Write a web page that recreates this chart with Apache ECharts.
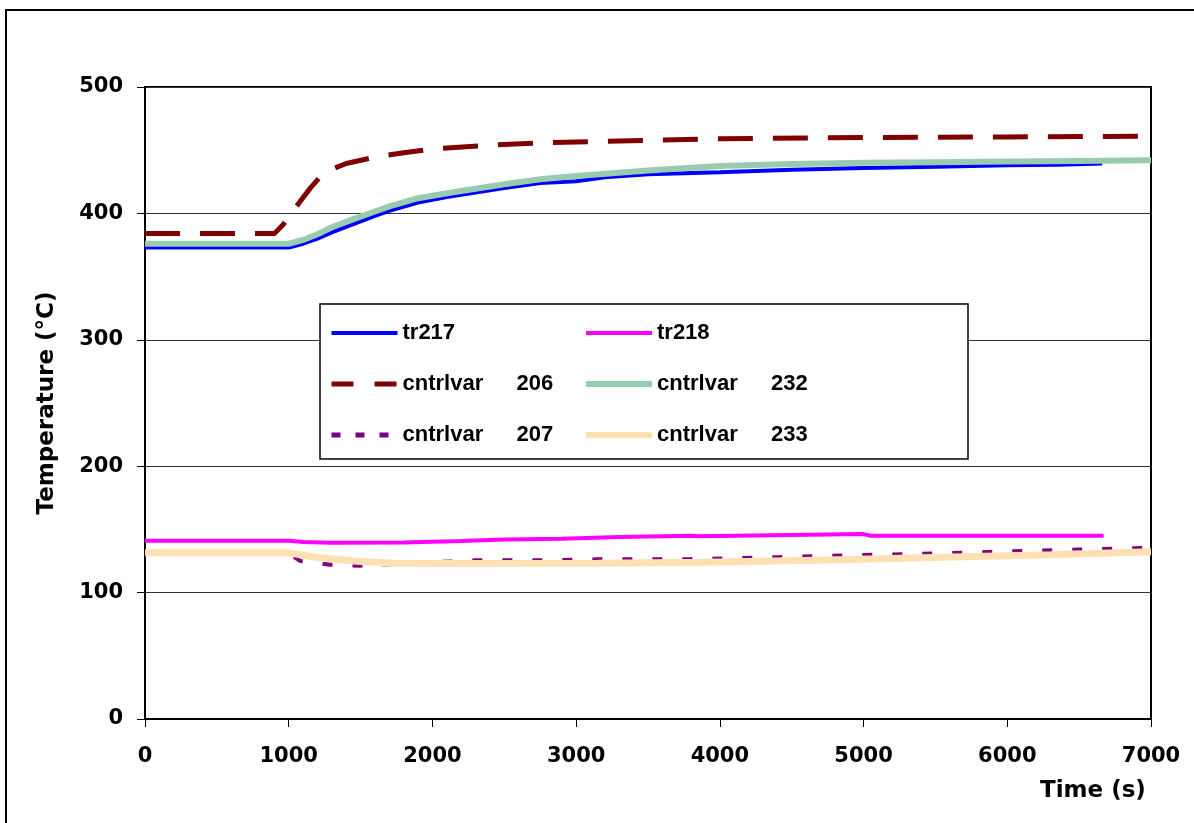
<!DOCTYPE html>
<html>
<head>
<meta charset="utf-8">
<script src="https://cdn.jsdelivr.net/npm/echarts@6/dist/echarts.min.js"></script>
<style>
html,body{margin:0;padding:0;background:#fff;}
#chart{width:1194px;height:823px;}
</style>
</head>
<body>
<div id="chart"></div>
<script>
// ---- data ----
const tTr217 = [0, 1000, 1100, 1200, 1300, 1450, 1600, 1700, 1900, 2100, 2300, 2500, 2750, 3000, 3200, 3500, 4000, 4500, 5000, 5500, 6000, 6350, 6660];
const vTr217 = [373, 373, 376, 380, 385, 391.5, 398, 402, 408.5, 413, 416.5, 420, 424, 425.5, 428.5, 431, 432.5, 434.5, 436, 437, 438, 438.5, 439.5];

const tTr218 = [0, 1000, 1100, 1300, 1800, 2200, 2500, 2900, 3300, 3800, 3850, 5000, 5050, 6670];
const vTr218 = [141, 141, 140, 139.5, 139.7, 140.8, 142, 142.6, 144, 145, 144.5, 146.3, 145, 145];

const tCv206 = [0, 900, 960, 1000, 1070, 1150, 1220, 1300, 1400, 1600, 1800, 2000, 2400, 2800, 3200, 3600, 4000, 5000, 6000, 7000];
const vCv206 = [384, 384, 391, 397, 408, 420, 429, 435, 439.5, 444.5, 448, 451, 454, 456, 457, 458, 459, 460, 460.5, 461];

const tCv232 = [0, 1000, 1100, 1200, 1300, 1450, 1600, 1700, 1900, 2100, 2300, 2500, 2750, 3000, 3500, 4000, 4500, 5000, 5500, 6000, 6500, 7000];
const vCv232 = [376, 376, 379, 383.5, 389, 395.5, 401.5, 405.5, 412, 416, 419.5, 423, 427, 429.5, 434, 437.5, 439, 440, 440.5, 441, 441.5, 442];

const tCv207 = [0, 1000, 1080, 1290, 1500, 1700, 2000, 2300, 2750, 3150, 3800, 4400, 5000, 5500, 5950, 6500, 7000];
const vCv207 = [131, 131, 125, 122, 121.3, 122.5, 124, 125.5, 125.5, 126.3, 126.5, 128, 129.7, 131, 132.4, 134, 135.5];

const tCv233 = [0, 1000, 1100, 1220, 1450, 1730, 2000, 3150, 3900, 4750, 5700, 6300, 7000];
const vCv233 = [131.5, 131.5, 129.5, 127.5, 125, 123.2, 123, 123.2, 124, 125.8, 128.4, 130, 132.4];

const xTicks = { min: 0, max: 7000, interval: 1000 };
const yTicks = { min: 0, max: 500, interval: 100 };
const xTitle = 'Time (s)';
const yTitle = 'Temperature (°C)';

function pairs(t, v) { return t.map((x, i) => [x, v[i]]); }

const tickFont = { fontFamily: 'DejaVu Sans', fontWeight: 'bold', fontSize: 21, color: '#000' };
const legendFont = 'Liberation Sans';

const chart = echarts.init(document.getElementById('chart'), null, { renderer: 'canvas' });

const legendRich = {
  a: { fontFamily: legendFont, fontWeight: 'bold', fontSize: 22, color: '#000', width: 114 },
  n: { fontFamily: legendFont, fontWeight: 'bold', fontSize: 22, color: '#000' }
};
function legendFmt(name) {
  const p = name.split(' ');
  if (p.length === 2) return '{a|' + p[0] + '}{n|' + p[1] + '}';
  return '{n|' + name + '}';
}
const legendCommon = {
  orient: 'vertical',
  top: 315,
  itemWidth: 66,
  itemHeight: 14,
  itemGap: 25,
  textStyle: { lineHeight: 26, rich: legendRich },
  itemStyle: { opacity: 0 },
  formatter: legendFmt,
  selectedMode: false
};

chart.setOption({
  animation: false,
  backgroundColor: '#fff',
  grid: { left: 145, top: 87, right: 43, bottom: 104, show: true, borderColor: '#000', borderWidth: 2, backgroundColor: 'transparent' },
  xAxis: {
    type: 'value', min: xTicks.min, max: xTicks.max, interval: xTicks.interval,
    axisLine: { show: true, lineStyle: { color: '#000', width: 2 } },
    axisTick: { show: true, inside: false, length: 8, lineStyle: { color: '#000', width: 1 } },
    axisLabel: Object.assign({ margin: 27, formatter: v => String(v) }, tickFont),
    splitLine: { show: false }
  },
  yAxis: {
    type: 'value', min: yTicks.min, max: yTicks.max, interval: yTicks.interval,
    name: yTitle, nameLocation: 'middle', nameRotate: 90, nameGap: 86,
    nameTextStyle: { fontFamily: 'DejaVu Sans', fontWeight: 'bold', fontSize: 23, color: '#000' },
    axisLine: { show: true, lineStyle: { color: '#000', width: 2 } },
    axisTick: { show: true, inside: false, length: 8, lineStyle: { color: '#000', width: 1 } },
    axisLabel: Object.assign({ margin: 22, formatter: v => String(v) }, tickFont),
    splitLine: { show: true, lineStyle: { color: '#333', width: 1 } }
  },
  legend: [
    Object.assign({}, legendCommon, {
      left: 324,
      data: [
        { name: 'tr217', lineStyle: { width: 4 } },
        { name: 'cntrlvar 206', lineStyle: { width: 5, type: [22, 21] } },
        { name: 'cntrlvar 207', lineStyle: { width: 5, type: [9, 15] } }
      ]
    }),
    Object.assign({}, legendCommon, {
      left: 578,
      data: [
        { name: 'tr218', lineStyle: { width: 4 } },
        { name: 'cntrlvar 232', lineStyle: { width: 6 } },
        { name: 'cntrlvar 233', lineStyle: { width: 6 } }
      ]
    })
  ],
  graphic: [
    { type: 'rect', z: 0, silent: true, shape: { x: 6, y: 10, width: 1400, height: 1000 }, style: { fill: 'none', stroke: '#000', lineWidth: 2 } },
    { type: 'rect', z: 1, silent: true, shape: { x: 320, y: 304, width: 648, height: 155 }, style: { fill: '#fff', stroke: '#000', lineWidth: 1.5 } },
    { type: 'text', z: 5, silent: true, left: 1040, top: 780, style: { text: xTitle, font: 'bold 23px "DejaVu Sans"', fill: '#000' } }
  ],
  series: [
    { name: 'tr217', type: 'line', data: pairs(tTr217, vTr217), showSymbol: false, symbol: 'none', lineStyle: { color: '#0000FF', width: 4 }, itemStyle: { color: '#0000FF' } },
    { name: 'tr218', type: 'line', data: pairs(tTr218, vTr218), showSymbol: false, symbol: 'none', lineStyle: { color: '#FF00FF', width: 4 }, itemStyle: { color: '#FF00FF' } },
    { name: 'cntrlvar 206', type: 'line', data: pairs(tCv206, vCv206), showSymbol: false, symbol: 'none', lineStyle: { color: '#800000', width: 5, type: [35, 20] }, itemStyle: { color: '#800000' } },
    { name: 'cntrlvar 232', type: 'line', data: pairs(tCv232, vCv232), showSymbol: false, symbol: 'none', lineStyle: { color: '#99CCAE', width: 6 }, itemStyle: { color: '#99CCAE' } },
    { name: 'cntrlvar 207', type: 'line', data: pairs(tCv207, vCv207), showSymbol: false, symbol: 'none', lineStyle: { color: '#800080', width: 4, type: [10, 20] }, itemStyle: { color: '#800080' } },
    { name: 'cntrlvar 233', type: 'line', data: pairs(tCv233, vCv233), showSymbol: false, symbol: 'none', lineStyle: { color: '#FFE0B2', width: 7 }, itemStyle: { color: '#FFE0B2' } }
  ]
});
</script>
</body>
</html>
